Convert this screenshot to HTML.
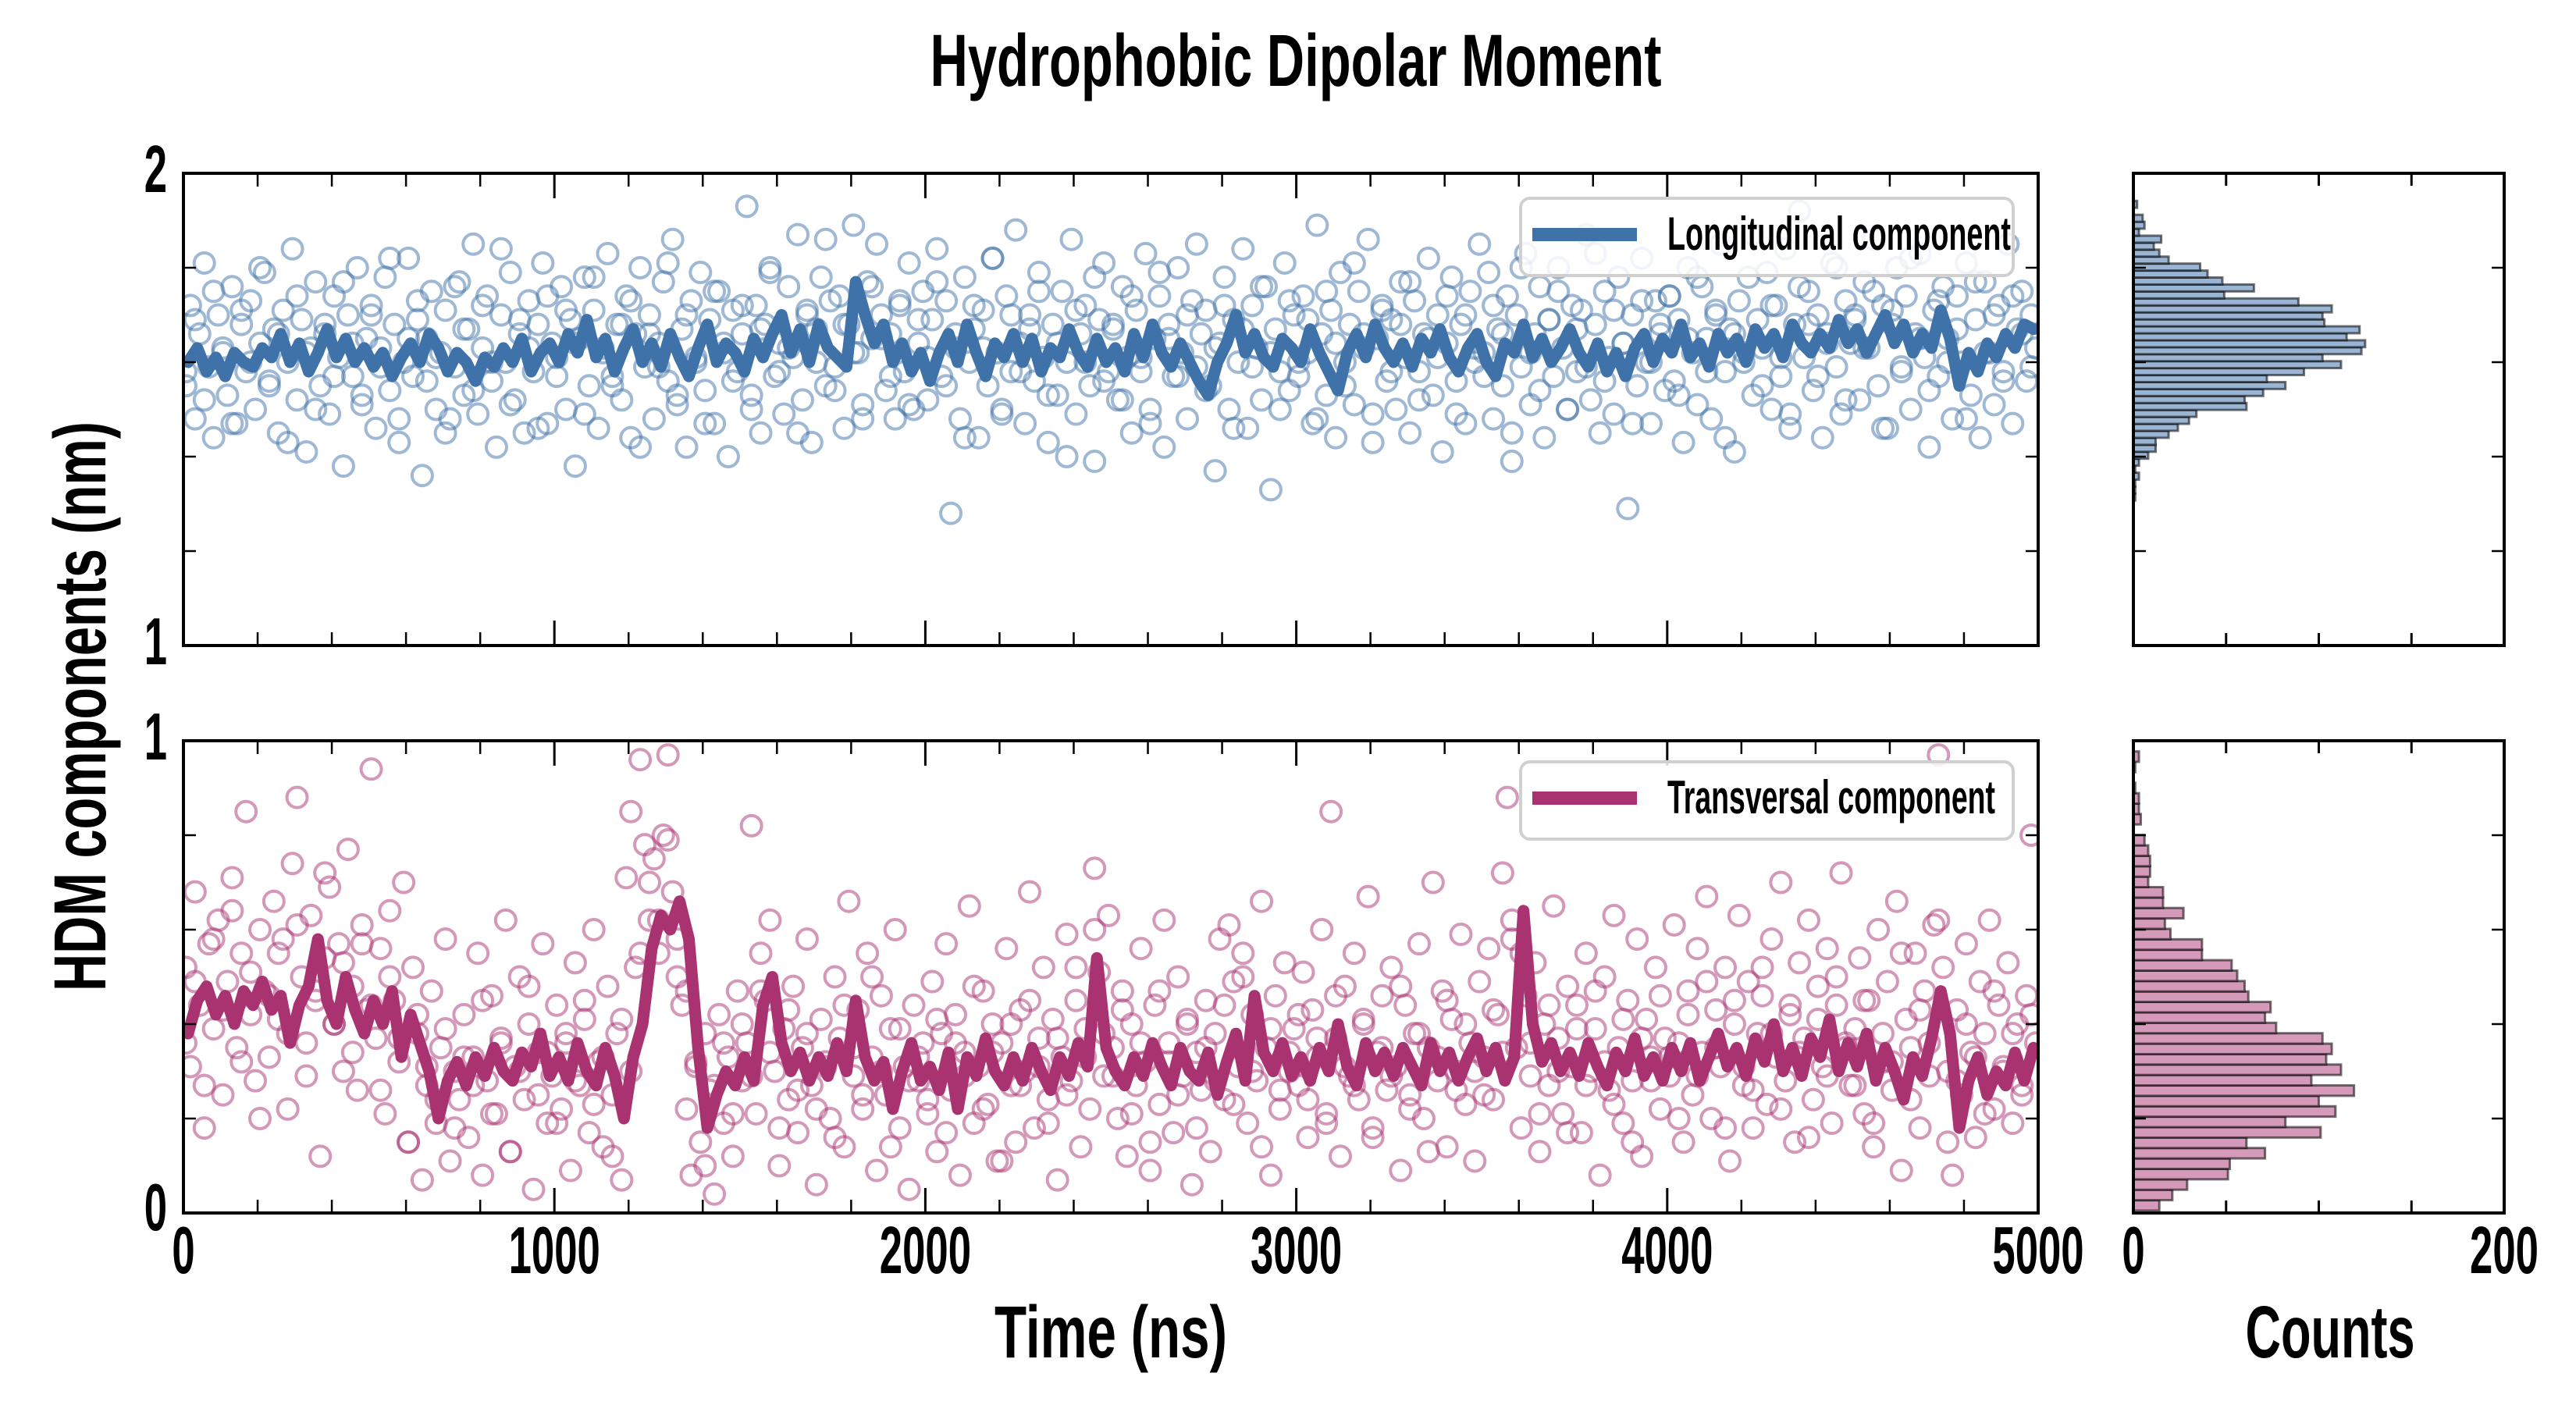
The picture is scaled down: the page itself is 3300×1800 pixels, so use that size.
<!DOCTYPE html>
<html><head><meta charset="utf-8"><style>
html,body{margin:0;padding:0;background:#fff;}
svg{display:block;}
text{font-family:"Liberation Sans Narrow","Liberation Sans",sans-serif;font-weight:bold;fill:#000;}
</style></head><body>
<svg id="fig" width="3300" height="1800" viewBox="0 0 3300 1800" xmlns="http://www.w3.org/2000/svg">
<rect width="3300" height="1800" fill="#fff"/>
<g id="layer"></g>
<text x="1660" y="110" font-size="95" text-anchor="middle" textLength="937" lengthAdjust="spacingAndGlyphs">Hydrophobic Dipolar Moment</text>
<text x="1423" y="1739" font-size="95" text-anchor="middle" textLength="298" lengthAdjust="spacingAndGlyphs">Time (ns)</text>
<text x="2985" y="1739" font-size="95" text-anchor="middle" textLength="217" lengthAdjust="spacingAndGlyphs">Counts</text>
<text x="0" y="0" font-size="95" text-anchor="middle" textLength="730" lengthAdjust="spacingAndGlyphs" transform="translate(135,905) rotate(-90)">HDM components (nm)</text>
</svg>
<script>
// ---------- data ----------
const lineLong = [1.60,1.63,1.58,1.61,1.57,1.62,1.60,1.59,1.63,1.61,1.66,1.60,1.64,1.58,1.62,1.67,1.61,1.65,1.60,1.63,1.59,1.62,1.57,1.61,1.64,1.60,1.66,1.63,1.58,1.62,1.60,1.56,1.61,1.59,1.63,1.60,1.65,1.58,1.62,1.64,1.60,1.66,1.62,1.69,1.61,1.65,1.58,1.63,1.67,1.60,1.64,1.59,1.66,1.61,1.57,1.63,1.68,1.60,1.64,1.62,1.58,1.65,1.61,1.66,1.70,1.62,1.67,1.60,1.68,1.63,1.61,1.59,1.77,1.70,1.64,1.68,1.60,1.64,1.58,1.62,1.56,1.62,1.66,1.60,1.68,1.62,1.57,1.64,1.61,1.66,1.60,1.65,1.58,1.63,1.61,1.67,1.62,1.59,1.65,1.60,1.63,1.58,1.66,1.61,1.68,1.62,1.59,1.64,1.60,1.56,1.53,1.60,1.64,1.70,1.62,1.66,1.61,1.59,1.65,1.63,1.60,1.67,1.62,1.58,1.54,1.62,1.66,1.61,1.68,1.63,1.60,1.64,1.59,1.65,1.62,1.67,1.61,1.58,1.63,1.66,1.60,1.57,1.64,1.62,1.68,1.61,1.65,1.60,1.63,1.67,1.62,1.59,1.64,1.58,1.62,1.57,1.63,1.66,1.60,1.65,1.62,1.68,1.61,1.64,1.59,1.66,1.62,1.65,1.60,1.67,1.63,1.66,1.61,1.68,1.64,1.62,1.66,1.63,1.69,1.64,1.67,1.62,1.66,1.70,1.64,1.68,1.62,1.66,1.63,1.71,1.65,1.55,1.62,1.58,1.64,1.61,1.66,1.63,1.68,1.67];
const lineTrans = [0.38,0.45,0.48,0.42,0.46,0.40,0.47,0.44,0.49,0.43,0.46,0.36,0.44,0.48,0.58,0.45,0.40,0.50,0.43,0.38,0.45,0.40,0.47,0.33,0.42,0.36,0.30,0.20,0.28,0.32,0.27,0.33,0.29,0.35,0.30,0.28,0.34,0.31,0.38,0.29,0.33,0.28,0.36,0.30,0.27,0.35,0.29,0.20,0.33,0.40,0.56,0.63,0.60,0.66,0.58,0.35,0.18,0.25,0.30,0.27,0.33,0.28,0.44,0.50,0.36,0.30,0.34,0.28,0.33,0.29,0.36,0.30,0.45,0.33,0.28,0.32,0.22,0.30,0.36,0.28,0.31,0.26,0.34,0.22,0.33,0.29,0.37,0.30,0.27,0.33,0.28,0.35,0.30,0.26,0.33,0.29,0.36,0.31,0.54,0.35,0.30,0.27,0.33,0.29,0.36,0.31,0.27,0.35,0.30,0.28,0.34,0.25,0.32,0.38,0.28,0.46,0.34,0.30,0.36,0.29,0.33,0.28,0.35,0.30,0.40,0.31,0.27,0.36,0.30,0.34,0.29,0.35,0.31,0.27,0.36,0.30,0.34,0.28,0.33,0.37,0.30,0.35,0.28,0.33,0.64,0.40,0.32,0.36,0.30,0.34,0.29,0.36,0.31,0.27,0.34,0.30,0.37,0.29,0.33,0.28,0.35,0.30,0.36,0.28,0.33,0.38,0.31,0.35,0.29,0.37,0.32,0.40,0.30,0.35,0.29,0.37,0.33,0.41,0.30,0.36,0.31,0.38,0.28,0.35,0.30,0.24,0.33,0.29,0.37,0.47,0.38,0.18,0.28,0.33,0.25,0.30,0.27,0.34,0.28,0.35];
const scatLong = [1.55,1.72,1.48,1.66,1.81,1.59,1.44,1.70,1.62,1.53,1.76,1.47,1.68,1.58,1.73,1.50,1.64,1.79,1.56,1.67,1.45,1.71,1.60,1.84,1.52,1.69,1.41,1.63,1.77,1.55,1.66,1.49,1.74,1.61,1.38,1.70,1.57,1.80,1.51,1.65,1.72,1.46,1.63,1.78,1.54,1.68,1.43,1.60,1.82,1.57,1.69,1.36,1.65,1.75,1.50,1.62,1.71,1.48,1.59,1.77,1.53,1.67,1.85,1.49,1.63,1.74,1.56,1.42,1.70,1.60,1.79,1.52,1.66,1.45,1.73,1.58,1.68,1.81,1.47,1.64,1.61,1.76,1.50,1.69,1.38,1.65,1.78,1.55,1.71,1.46,1.63,1.83,1.57,1.68,1.52,1.74,1.44,1.66,1.80,1.59,1.70,1.48,1.64,1.77,1.56,1.86,1.51,1.67,1.42,1.73,1.60,1.79,1.54,1.69,1.47,1.75,1.62,1.40,1.71,1.58,1.66,1.93,1.53,1.72,1.45,1.68,1.80,1.57,1.64,1.49,1.76,1.61,1.87,1.52,1.70,1.43,1.67,1.78,1.55,1.73,1.59,1.74,1.46,1.68,1.89,1.62,1.51,1.77,1.65,1.85,1.70,1.54,1.66,1.48,1.72,1.58,1.81,1.50,1.64,1.75,1.52,1.69,1.84,1.57,1.73,1.28,1.63,1.48,1.78,1.60,1.67,1.44,1.71,1.55,1.82,1.62,1.50,1.74,1.58,1.88,1.64,1.47,1.70,1.56,1.79,1.61,1.43,1.68,1.53,1.75,1.60,1.86,1.49,1.66,1.72,1.55,1.39,1.69,1.81,1.58,1.67,1.52,1.76,1.61,1.45,1.71,1.58,1.83,1.50,1.65,1.74,1.42,1.68,1.57,1.80,1.62,1.48,1.73,1.59,1.66,1.71,1.55,1.37,1.64,1.78,1.50,1.69,1.60,1.84,1.46,1.72,1.63,1.52,1.76,1.33,1.67,1.58,1.81,1.54,1.70,1.57,1.74,1.62,1.47,1.89,1.66,1.53,1.71,1.44,1.79,1.60,1.68,1.51,1.75,1.63,1.86,1.49,1.65,1.72,1.56,1.69,1.50,1.77,1.61,1.45,1.73,1.58,1.66,1.82,1.53,1.70,1.41,1.64,1.78,1.56,1.68,1.47,1.75,1.60,1.85,1.62,1.79,1.48,1.67,1.55,1.74,1.39,1.70,1.59,1.83,1.51,1.66,1.76,1.44,1.69,1.57,1.80,1.63,1.50,1.72,1.58,1.71,1.87,1.52,1.68,1.45,1.75,1.61,1.49,1.78,1.64,1.29,1.70,1.55,1.82,1.60,1.47,1.73,1.66,1.54,1.74,1.56,1.69,1.43,1.80,1.62,1.51,1.76,1.65,1.48,1.71,1.85,1.58,1.67,1.41,1.73,1.60,1.78,1.53,1.69,1.63,1.79,1.50,1.72,1.57,1.84,1.46,1.68,1.92,1.61,1.75,1.54,1.70,1.44,1.66,1.81,1.59,1.49,1.73,1.64,1.70,1.52,1.77,1.63,1.86,1.55,1.72,1.46,1.68,1.80,1.59,1.74,1.50,1.66,1.83,1.61,1.42,1.71,1.57,1.76,1.65,1.48,1.74,1.60,1.81,1.53,1.69,1.44,1.77,1.62,1.51,1.72,1.58,1.85,1.47,1.67,1.75,1.56,1.70,1.63];
const scatLong2 = [1.58,1.69,1.52,1.75,1.63,1.47,1.71,1.60,1.80,1.55,1.66,1.43,1.74,1.62,1.50,1.68,1.57,1.77,1.64,1.53,1.70,1.59,1.82,1.48,1.65,1.73,1.56,1.61,1.45,1.76,1.67,1.54,1.72,1.60,1.84,1.51,1.69,1.63,1.46,1.74,1.57,1.71,1.64,1.49,1.78,1.62,1.55,1.68,1.73,1.42,1.66,1.59,1.81,1.53,1.70,1.61,1.47,1.75,1.64,1.56,1.72,1.50,1.67,1.79,1.58,1.63,1.45,1.71,1.60,1.86,1.54,1.68,1.62,1.48,1.76,1.65,1.57,1.73,1.51,1.69,1.61,1.77,1.55,1.66,1.44,1.72,1.63,1.82,1.49,1.70,1.58,1.67,1.75,1.53,1.64,1.40,1.71,1.60,1.78,1.56,1.68,1.52,1.74,1.61,1.47,1.79,1.65,1.57,1.70,1.85,1.54,1.63,1.72,1.46,1.67,1.59,1.76,1.62,1.50,1.73,1.60,1.69,1.48,1.75,1.64,1.55,1.81,1.66,1.43,1.71,1.58,1.68,1.77,1.52,1.65,1.61,1.74,1.49,1.70,1.63,1.57,1.72,1.66,1.45,1.80,1.62,1.54,1.69,1.75,1.50,1.67,1.59,1.83,1.56,1.71,1.64,1.47,1.73,1.60,1.68,1.74,1.53,1.65,1.78,1.58,1.70,1.44,1.66,1.62,1.87,1.55,1.72,1.61,1.49,1.76,1.68,1.57,1.64,1.80,1.52,1.69,1.63,1.75,1.46,1.71,1.58,1.82,1.65,1.54,1.73,1.60,1.67,1.48,1.77,1.62,1.70,1.56,1.74,1.66,1.59];
const scatTrans = [0.52,0.31,0.68,0.44,0.18,0.57,0.39,0.62,0.25,0.49,0.71,0.35,0.55,0.85,0.42,0.28,0.60,0.47,0.33,0.66,0.41,0.58,0.22,0.74,0.88,0.50,0.36,0.63,0.45,0.12,0.54,0.69,0.40,0.57,0.30,0.77,0.48,0.26,0.61,0.43,0.94,0.37,0.56,0.21,0.64,0.45,0.32,0.70,0.15,0.52,0.38,0.07,0.27,0.47,0.19,0.35,0.58,0.11,0.30,0.24,0.42,0.16,0.33,0.55,0.08,0.28,0.46,0.21,0.37,0.62,0.13,0.31,0.50,0.24,0.40,0.05,0.34,0.57,0.19,0.29,0.44,0.22,0.36,0.09,0.53,0.27,0.41,0.17,0.60,0.32,0.14,0.48,0.25,0.38,0.07,0.71,0.85,0.52,0.96,0.78,0.62,0.75,0.55,0.80,0.97,0.68,0.50,0.44,0.22,0.08,0.31,0.15,0.38,0.26,0.04,0.42,0.19,0.33,0.12,0.47,0.28,0.36,0.82,0.21,0.55,0.45,0.62,0.30,0.10,0.39,0.24,0.48,0.17,0.35,0.58,0.27,0.06,0.41,0.32,0.20,0.50,0.37,0.14,0.66,0.29,0.43,0.22,0.55,0.33,0.09,0.46,0.25,0.39,0.60,0.18,0.31,0.05,0.44,0.28,0.36,0.21,0.49,0.13,0.38,0.57,0.26,0.42,0.08,0.34,0.65,0.19,0.31,0.47,0.23,0.40,0.11,0.36,0.56,0.27,0.15,0.43,0.30,0.68,0.18,0.37,0.52,0.24,0.41,0.07,0.33,0.59,0.28,0.45,0.14,0.39,0.22,0.73,0.51,0.29,0.63,0.35,0.20,0.47,0.12,0.40,0.27,0.56,0.32,0.09,0.44,0.23,0.62,0.36,0.17,0.50,0.29,0.41,0.06,0.34,0.26,0.45,0.13,0.38,0.58,0.24,0.61,0.49,0.31,0.55,0.19,0.42,0.28,0.66,0.35,0.08,0.46,0.22,0.53,0.30,0.39,0.27,0.51,0.16,0.43,0.33,0.60,0.21,0.85,0.37,0.12,0.48,0.29,0.55,0.24,0.40,0.67,0.18,0.34,0.46,0.26,0.52,0.31,0.09,0.44,0.25,0.38,0.57,0.20,0.35,0.70,0.28,0.47,0.14,0.41,0.30,0.59,0.23,0.36,0.11,0.49,0.33,0.56,0.24,0.42,0.72,0.88,0.62,0.35,0.18,0.46,0.29,0.53,0.13,0.40,0.27,0.65,0.37,0.21,0.48,0.31,0.44,0.17,0.55,0.30,0.39,0.08,0.50,0.26,0.63,0.35,0.19,0.45,0.28,0.58,0.12,0.41,0.33,0.52,0.22,0.37,0.29,0.61,0.36,0.15,0.47,0.25,0.56,0.34,0.67,0.20,0.43,0.31,0.52,0.11,0.40,0.63,0.27,0.49,0.18,0.38,0.46,0.23,0.58,0.33,0.70,0.28,0.42,0.15,0.53,0.37,0.62,0.24,0.48,0.31,0.56,0.19,0.44,0.72,0.35,0.27,0.39,0.54,0.21,0.45,0.14,0.60,0.32,0.49,0.26,0.66,0.09,0.41,0.35,0.55,0.18,0.47,0.29,0.61,0.97,0.52,0.30,0.08,0.43,0.25,0.57,0.34,0.16,0.49,0.38,0.62,0.22,0.44,0.31,0.53,0.19,0.40,0.27,0.46,0.80,0.36];
const scatTrans2 = [0.36,0.49,0.27,0.58,0.43,0.64,0.32,0.51,0.20,0.46,0.55,0.38,0.61,0.29,0.47,0.72,0.40,0.53,0.34,0.57,0.44,0.26,0.50,0.37,0.15,0.42,0.31,0.24,0.39,0.18,0.33,0.27,0.45,0.21,0.36,0.13,0.30,0.48,0.25,0.34,0.19,0.38,0.28,0.45,0.23,0.33,0.12,0.41,0.30,0.55,0.70,0.62,0.79,0.58,0.47,0.32,0.10,0.27,0.36,0.21,0.40,0.29,0.47,0.34,0.18,0.43,0.26,0.38,0.22,0.31,0.16,0.44,0.35,0.25,0.50,0.30,0.14,0.39,0.28,0.33,0.24,0.41,0.17,0.36,0.29,0.48,0.22,0.34,0.11,0.40,0.27,0.45,0.31,0.19,0.37,0.25,0.52,0.33,0.60,0.38,0.29,0.43,0.21,0.36,0.15,0.47,0.32,0.25,0.40,0.18,0.35,0.28,0.44,0.23,0.50,0.30,0.14,0.39,0.26,0.34,0.42,0.24,0.37,0.19,0.46,0.31,0.27,0.41,0.16,0.35,0.29,0.48,0.22,0.38,0.13,0.33,0.45,0.26,0.40,0.30,0.25,0.43,0.34,0.58,0.55,0.36,0.21,0.44,0.30,0.17,0.39,0.27,0.47,0.32,0.23,0.41,0.15,0.37,0.28,0.46,0.33,0.20,0.42,0.29,0.49,0.35,0.18,0.45,0.31,0.26,0.52,0.38,0.22,0.44,0.34,0.16,0.41,0.29,0.50,0.36,0.27,0.45,0.19,0.38,0.32,0.55,0.24,0.43,0.36,0.62,0.15,0.28,0.40,0.33,0.21,0.47,0.30,0.38,0.25,0.42];
const histLongCounts = [1,1,1,3,1,3,8,12,12,19,24,30,34,61,60,70,82,72,92,112,102,123,125,115,122,103,102,107,89,49,65,48,40,36,19,14,11,15,3,6,5,0,2];
const histLongLo = 1.307, histLongBin = 0.01476;
const histTransCounts = [14,21,29,51,52,71,61,101,82,109,100,119,96,112,104,107,102,77,71,74,62,60,56,53,37,37,20,17,27,16,16,8,9,9,8,6,0,4,3,3,1,0,1,3];
const histTransLo = 0.005, histTransBin = 0.0221;
const xTickLabels = ["0","1000","2000","3000","4000","5000"];
const histTickLabels = ["0","200"];
const tMax = 5000;

// ---------- layout ----------
const NS = "http://www.w3.org/2000/svg";
const layer = document.getElementById('layer');
const L = 235, R = 2611, TT = 222, TB = 827, BT = 949, BB = 1554, HL = 2733, HR = 3208;
const x = t => L + t / tMax * (R - L);
const yT = v => TB - (v - 1) * (TB - TT);
const yB = v => BB - v * (BB - BT);
const hx = c => HL + c / 200 * (HR - HL);
function mk(tag, attrs, parent) {
  const e = document.createElementNS(NS, tag);
  for (const k in attrs) e.setAttribute(k, attrs[k]);
  (parent || layer).appendChild(e);
  return e;
}

function scatter(vals, yf, color, name, off) {
  const g = mk('g', {});
  
  
  const dt = tMax / vals.length;
  vals.forEach((v, i) => {
    const c = mk('circle', {cx: x(i * dt + dt * off), cy: yf(v), r: 13, fill: 'none', stroke: color, 'stroke-width': 4, 'stroke-opacity': 0.5}, g);
    
    
  });
}
function line(vals, yf, color, name) {
  const dt = tMax / vals.length;
  const d = vals.map((v, i) => (i ? 'L' : 'M') + x(i * dt + dt / 2).toFixed(1) + ',' + yf(v).toFixed(1)).join('');
  const p = mk('path', {d: d, fill: 'none', stroke: color, 'stroke-width': 15, 'stroke-linejoin': 'round', 'stroke-linecap': 'round'});
  
  
}
function hist(counts, lo, bw, yf, fill, name) {
  const g = mk('g', {});
  
  
  counts.forEach((c, i) => {
    const y1 = yf(lo + (i + 1) * bw), y0 = yf(lo + i * bw);
    const r = mk('rect', {x: HL, y: y1, width: Math.max(hx(c) - HL, 0.01), height: y0 - y1, fill: fill, stroke: 'rgba(0,0,0,0.55)', 'stroke-width': 3}, g);
    
    
  });
}
function frame(x0, y0, x1, y1, name) {
  const r = mk('rect', {x: x0, y: y0, width: x1 - x0, height: y1 - y0, fill: 'none', stroke: '#000', 'stroke-width': 4});
  
  
}
function tk(x1, y1, x2, y2, w) { mk('line', {x1: x1, y1: y1, x2: x2, y2: y2, stroke: '#000', 'stroke-width': w}); }
function label(txt, xx, yy, anchor, name) {
  const t = mk('text', {x: xx, y: yy, 'font-size': 85, 'text-anchor': anchor, textLength: 29.3 * txt.length, lengthAdjust: 'spacingAndGlyphs'});
  t.textContent = txt;
  
  
}

// data marks
scatter(scatLong, yT, '#3f72a8', 'longitudinal-scatter', 0.5);
scatter(scatLong2, yT, '#3f72a8', 'longitudinal-scatter-b', 0.25);
line(lineLong, yT, '#3f72a8', 'longitudinal-line');
scatter(scatTrans, yB, '#a93271', 'transversal-scatter', 0.5);
scatter(scatTrans2, yB, '#a93271', 'transversal-scatter-b', 0.25);
line(lineTrans, yB, '#a93271', 'transversal-line');
hist(histLongCounts, histLongLo, histLongBin, yT, '#9ab4d4', 'longitudinal-histogram');
hist(histTransCounts, histTransLo, histTransBin, yB, '#d59aba', 'transversal-histogram');

// white masks outside axes for clipping
mk('rect', {x: 0, y: TB + 2, width: 3300, height: BT - TB - 4, fill: '#fff'});
mk('rect', {x: 0, y: BB + 2, width: 3300, height: 120, fill: '#fff'});
mk('rect', {x: 0, y: TT - 60, width: 3300, height: 58, fill: '#fff'});
mk('rect', {x: 0, y: TT - 2, width: L - 2, height: BB - TT + 4, fill: '#fff'});
mk('rect', {x: R + 2, y: TT - 2, width: HL - R - 4, height: BB - TT + 4, fill: '#fff'});

// frames & ticks
[[TT, TB], [BT, BB]].forEach(([a, b], pi) => {
  frame(L, a, R, b, pi ? 'transversal-axes' : 'longitudinal-axes');
  frame(HL, a, HR, b, pi ? 'transversal-hist-axes' : 'longitudinal-hist-axes');
  for (let t = 0; t <= tMax; t += 200) {
    const major = t % 1000 === 0, len = major ? 32 : 17, w = major ? 3 : 2.5;
    tk(x(t), b, x(t), b - len, w); tk(x(t), a, x(t), a + len, w);
  }
  for (let k = 1; k < 5; k++) {
    const yy = a + (b - a) * k / 5;
    tk(L, yy, L + 16, yy, 2.5); tk(R, yy, R - 16, yy, 2.5);
    tk(HL, yy, HL + 16, yy, 2.5); tk(HR, yy, HR - 16, yy, 2.5);
  }
  for (let c = 50; c < 200; c += 50) { tk(hx(c), b, hx(c), b - 16, 3); tk(hx(c), a, hx(c), a + 16, 3); }
});

// tick labels
label('2', 214, TT + 24, 'end', 'y-tick-label');
label('1', 214, TB + 24, 'end', 'y-tick-label');
label('1', 214, BT + 24, 'end', 'y-tick-label');
label('0', 214, BB + 22, 'end', 'y-tick-label');
xTickLabels.forEach((s, i) => label(s, x(i * 1000), 1631, 'middle', 'x-tick-label'));
histTickLabels.forEach((s, i) => label(s, hx(i * 200), 1631, 'middle', 'hist-x-tick-label'));

// legends
function legend(top, color, txt, w, name) {
  const g = mk('g', {});
  
  
  mk('rect', {x: 1948, y: top, width: 631, height: 99, rx: 12, fill: 'rgba(255,255,255,0.85)', stroke: '#d0d0d0', 'stroke-width': 4}, g);
  mk('rect', {x: 1963, y: top + 38, width: 134, height: 17, fill: color}, g);
  const t = mk('text', {x: 2136, y: top + 66, 'font-size': 60, textLength: w, lengthAdjust: 'spacingAndGlyphs'}, g);
  t.textContent = txt;
}
legend(254, '#3f72a8', 'Longitudinal component', 440, 'longitudinal-legend');
legend(976, '#a93271', 'Transversal component', 420, 'transversal-legend');
</script>
</body></html>
